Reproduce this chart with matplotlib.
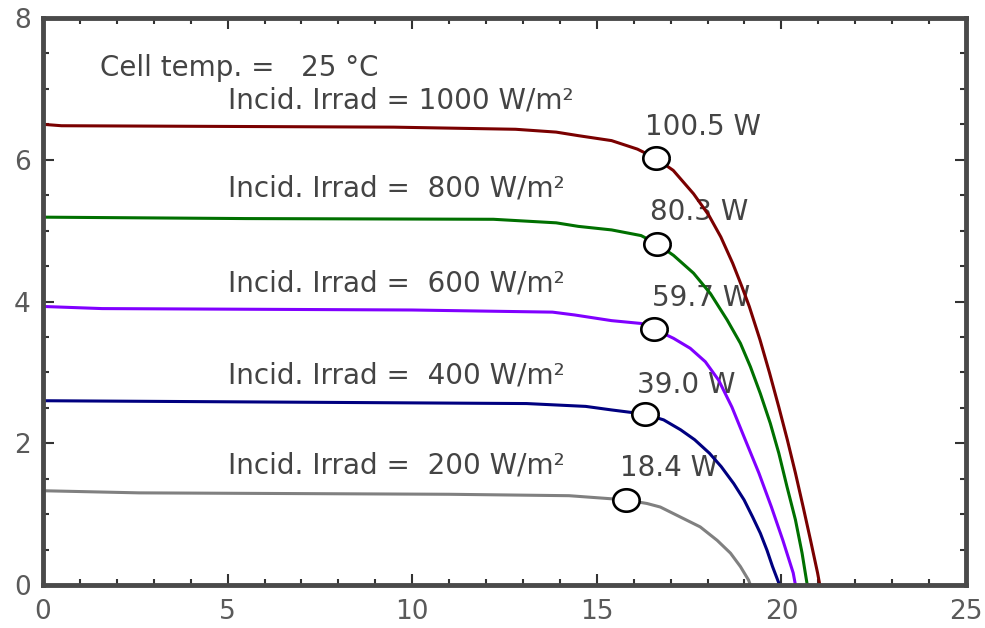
from matplotlib import pyplot as plt
from matplotlib.ticker import MultipleLocator
import numpy as np

# I-V curves, one per irradiance level
v_1000 = [0, 0.5, 9.5, 12.8, 13.9, 14.5, 15.4, 16.1, 16.6, 17.07, 17.62, 18.03, 18.36, 18.68,
          18.93, 19.13, 19.42, 19.68, 19.93, 20.16, 20.38, 20.59, 20.79, 20.98, 21.04]
i_1000 = [6.50, 6.48, 6.46, 6.43, 6.39, 6.34, 6.27, 6.15, 6.02, 5.85, 5.52, 5.22, 4.91, 4.54,
          4.21, 3.93, 3.46, 2.99, 2.51, 2.05, 1.58, 1.10, 0.63, 0.17, 0.0]

v_800 = [0, 5.5, 12.2, 13.9, 14.5, 15.4, 16.2, 16.64, 17.08, 17.62, 18.08, 18.53, 18.89, 19.16,
         19.43, 19.7, 19.93, 20.15, 20.38, 20.56, 20.7]
i_800 = [5.19, 5.17, 5.16, 5.11, 5.06, 5.01, 4.93, 4.81, 4.65, 4.40, 4.11, 3.74, 3.41, 3.08,
         2.70, 2.28, 1.86, 1.39, 0.92, 0.45, 0.0]

v_600 = [0, 1.6, 10.0, 13.8, 14.4, 15.4, 16.2, 16.56, 17.08, 17.53, 17.94, 18.3, 18.66, 19.02,
         19.39, 19.73, 20.04, 20.32, 20.38]
i_600 = [3.93, 3.90, 3.88, 3.85, 3.81, 3.73, 3.69, 3.61, 3.48, 3.34, 3.15, 2.89, 2.51, 2.05,
         1.58, 1.10, 0.63, 0.17, 0.0]

v_400 = [0, 6.6, 13.1, 14.7, 15.4, 16.31, 16.81, 17.27, 17.65, 18.05, 18.37, 18.71, 18.99,
         19.22, 19.43, 19.61, 19.76, 19.95]
i_400 = [2.60, 2.58, 2.56, 2.52, 2.47, 2.41, 2.33, 2.19, 2.05, 1.86, 1.67, 1.43, 1.20,
         0.96, 0.73, 0.49, 0.26, 0.0]

v_200 = [0, 2.6, 11.0, 14.25, 15.3, 15.8, 16.36, 16.72, 17.26, 17.8, 18.26, 18.62, 18.89, 19.11, 19.16]
i_200 = [1.33, 1.30, 1.28, 1.26, 1.22, 1.20, 1.15, 1.10, 0.96, 0.82, 0.63, 0.45, 0.26, 0.07, 0.0]

# maximum power points
mpp_v = [16.6, 16.64, 16.56, 16.31, 15.8]
mpp_i = [6.02, 4.81, 3.61, 2.41, 1.20]

irrad_labels = ['Incid. Irrad = 1000 W/m²', 'Incid. Irrad =  800 W/m²', 'Incid. Irrad =  600 W/m²',
                'Incid. Irrad =  400 W/m²', 'Incid. Irrad =  200 W/m²']
power_labels = ['100.5 W', '80.3 W', '59.7 W', '39.0 W', '18.4 W']

curves = [(v_1000, i_1000), (v_800, i_800), (v_600, i_600), (v_400, i_400), (v_200, i_200)]
colors = ['#7a0000', '#007000', '#8000ff', '#000080', '#808080']

fig = plt.figure(figsize=(9.85, 6.28), dpi=100)
ax = fig.add_axes([43/985, 1-585/628, (966-43)/985, (585-18)/628])

for (v, i), c in zip(curves, colors):
    ax.plot(v, i, color=c, lw=2.2, zorder=2, solid_capstyle='butt', solid_joinstyle='round')

# slightly wide ellipse marker like the reference
t = np.linspace(0, 2*np.pi, 60)
ell = np.column_stack([np.cos(t), 0.85*np.sin(t)])
ax.plot(mpp_v, mpp_i, ls='none', marker=ell, ms=19, mfc='white', mec='black', mew=1.9, zorder=3)

txt = dict(fontsize=20, color='#444444', ha='left', va='center', family='DejaVu Sans', zorder=1)
ax.text(1.54, 7.29, 'Cell temp. =   25 °C', **txt)
irrad_y = [6.84, 5.60, 4.26, 2.96, 1.69]
for lab, y in zip(irrad_labels, irrad_y):
    ax.text(5.01, y, lab, **txt)
power_xy = [(16.31, 6.46), (16.45, 5.26), (16.5, 4.05), (16.1, 2.82), (15.64, 1.65)]
for lab, (x, y) in zip(power_labels, power_xy):
    ax.text(x, y, lab, **txt)

ax.set_xlim(0, 25)
ax.set_ylim(0, 8)
ax.xaxis.set_major_locator(MultipleLocator(5))
ax.xaxis.set_minor_locator(MultipleLocator(1))
ax.yaxis.set_major_locator(MultipleLocator(2))
ax.yaxis.set_minor_locator(MultipleLocator(0.5))
ax.tick_params(which='both', direction='in', top=True, right=True, color='#333333', width=1.5)
ax.tick_params(which='major', length=8, labelsize=19, labelcolor='#5a5a5a')
ax.tick_params(which='minor', length=4)
ax.tick_params(axis='x', which='major', pad=10)
ax.tick_params(axis='y', which='major', pad=9)
for s in ax.spines.values():
    s.set_color('#4a4a4a')
    s.set_linewidth(3.5)

plt.savefig('out.png', dpi=100)
